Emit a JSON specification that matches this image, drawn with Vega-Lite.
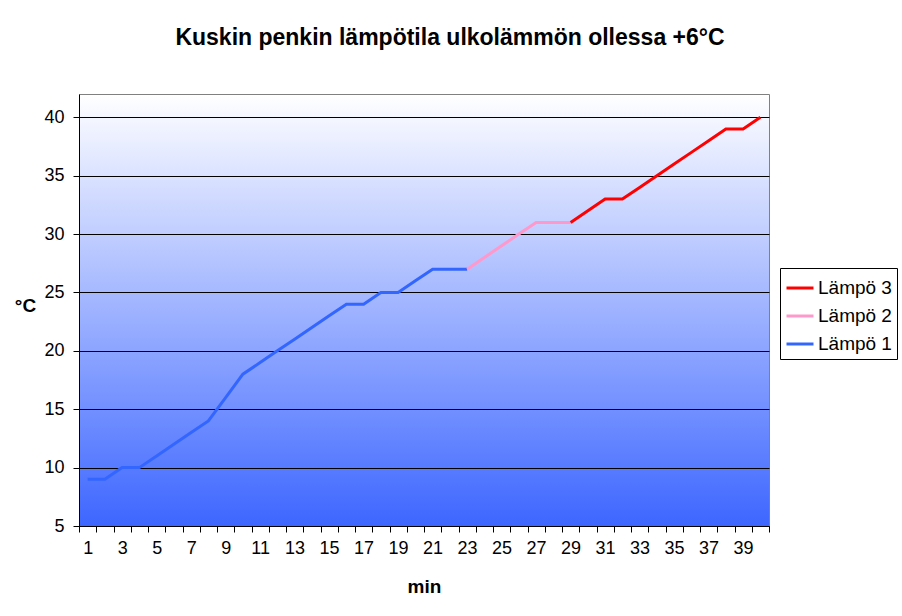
{
  "$schema": "https://vega.github.io/schema/vega-lite/v6.json",
  "width": 690,
  "height": 432,
  "autosize": {"type": "none"},
  "padding": {"left": 79, "top": 94, "right": 133, "bottom": 90},
  "background": "white",
  "title": {
    "text": "Kuskin penkin lämpötila ulkolämmön ollessa +6°C",
    "anchor": "middle",
    "dx": 26,
    "offset": 26,
    "baseline": "alphabetic",
    "font": "Liberation Sans",
    "fontSize": 23,
    "fontWeight": "bold",
    "color": "black"
  },
  "config": {
    "view": {
      "stroke": "#808080",
      "strokeWidth": 1,
      "fill": {
        "gradient": "linear",
        "x1": 0, "y1": 0, "x2": 0, "y2": 1,
        "stops": [
          {"offset": 0, "color": "#ffffff"},
          {"offset": 1, "color": "#3d66ff"}
        ]
      }
    },
    "axis": {
      "labelFont": "Liberation Sans",
      "labelFontSize": 18,
      "labelColor": "black",
      "titleFont": "Liberation Sans",
      "titleFontSize": 19,
      "titleFontWeight": "bold",
      "titleColor": "black",
      "domainColor": "black",
      "tickColor": "black",
      "tickSize": 6
    },
    "legend": {
      "labelFont": "Liberation Sans",
      "labelFontSize": 19,
      "labelColor": "black"
    }
  },
  "data": {
    "values": [
      {"min": 1, "temp": 9, "series": "Lämpö 1"},
      {"min": 2, "temp": 9, "series": "Lämpö 1"},
      {"min": 3, "temp": 10, "series": "Lämpö 1"},
      {"min": 4, "temp": 10, "series": "Lämpö 1"},
      {"min": 5, "temp": 11, "series": "Lämpö 1"},
      {"min": 6, "temp": 12, "series": "Lämpö 1"},
      {"min": 7, "temp": 13, "series": "Lämpö 1"},
      {"min": 8, "temp": 14, "series": "Lämpö 1"},
      {"min": 9, "temp": 16, "series": "Lämpö 1"},
      {"min": 10, "temp": 18, "series": "Lämpö 1"},
      {"min": 11, "temp": 19, "series": "Lämpö 1"},
      {"min": 12, "temp": 20, "series": "Lämpö 1"},
      {"min": 13, "temp": 21, "series": "Lämpö 1"},
      {"min": 14, "temp": 22, "series": "Lämpö 1"},
      {"min": 15, "temp": 23, "series": "Lämpö 1"},
      {"min": 16, "temp": 24, "series": "Lämpö 1"},
      {"min": 17, "temp": 24, "series": "Lämpö 1"},
      {"min": 18, "temp": 25, "series": "Lämpö 1"},
      {"min": 19, "temp": 25, "series": "Lämpö 1"},
      {"min": 20, "temp": 26, "series": "Lämpö 1"},
      {"min": 21, "temp": 27, "series": "Lämpö 1"},
      {"min": 22, "temp": 27, "series": "Lämpö 1"},
      {"min": 23, "temp": 27, "series": "Lämpö 1"},
      {"min": 23, "temp": 27, "series": "Lämpö 2"},
      {"min": 24, "temp": 28, "series": "Lämpö 2"},
      {"min": 25, "temp": 29, "series": "Lämpö 2"},
      {"min": 26, "temp": 30, "series": "Lämpö 2"},
      {"min": 27, "temp": 31, "series": "Lämpö 2"},
      {"min": 28, "temp": 31, "series": "Lämpö 2"},
      {"min": 29, "temp": 31, "series": "Lämpö 2"},
      {"min": 29, "temp": 31, "series": "Lämpö 3"},
      {"min": 30, "temp": 32, "series": "Lämpö 3"},
      {"min": 31, "temp": 33, "series": "Lämpö 3"},
      {"min": 32, "temp": 33, "series": "Lämpö 3"},
      {"min": 33, "temp": 34, "series": "Lämpö 3"},
      {"min": 34, "temp": 35, "series": "Lämpö 3"},
      {"min": 35, "temp": 36, "series": "Lämpö 3"},
      {"min": 36, "temp": 37, "series": "Lämpö 3"},
      {"min": 37, "temp": 38, "series": "Lämpö 3"},
      {"min": 38, "temp": 39, "series": "Lämpö 3"},
      {"min": 39, "temp": 39, "series": "Lämpö 3"},
      {"min": 40, "temp": 40, "series": "Lämpö 3"}
    ]
  },
  "mark": {"type": "line", "strokeWidth": 3},
  "encoding": {
    "x": {
      "field": "min",
      "type": "ordinal",
      "sort": "ascending",
      "scale": {"type": "band", "paddingInner": 0, "paddingOuter": 0, "domain": [1,2,3,4,5,6,7,8,9,10,11,12,13,14,15,16,17,18,19,20,21,22,23,24,25,26,27,28,29,30,31,32,33,34,35,36,37,38,39,40]},
      "axis": {
        "title": "min",
        "labelAngle": 0,
        "tickBand": "extent",
        "labelExpr": "datum.value % 2 == 1 ? datum.label : ''",
        "labelPadding": 7,
        "titlePadding": 20,
        "grid": false
      }
    },
    "y": {
      "field": "temp",
      "type": "quantitative",
      "scale": {"domain": [5, 42], "nice": false, "zero": false},
      "axis": {
        "title": "°C",
        "titleAngle": 0,
        "titleX": -54,
        "titleY": 221,
        "titleAlign": "center",
        "values": [5, 10, 15, 20, 25, 30, 35, 40],
        "grid": true,
        "gridColor": "black",
        "gridOpacity": 1,
        "gridWidth": 1,
        "labelPadding": 9
      }
    },
    "color": {
      "field": "series",
      "type": "nominal",
      "scale": {"domain": ["Lämpö 3", "Lämpö 2", "Lämpö 1"], "range": ["#ff0000", "#ff99cc", "#3366ff"]},
      "legend": {
        "title": null,
        "orient": "none",
        "legendX": 701,
        "legendY": 174,
        "strokeColor": "black",
        "fillColor": "white",
        "padding": 5,
        "symbolType": "stroke",
        "symbolStrokeWidth": 3,
        "symbolSize": 729,
        "symbolOffset": 0,
        "rowPadding": 3,
        "labelOffset": 3
      }
    }
  }
}
